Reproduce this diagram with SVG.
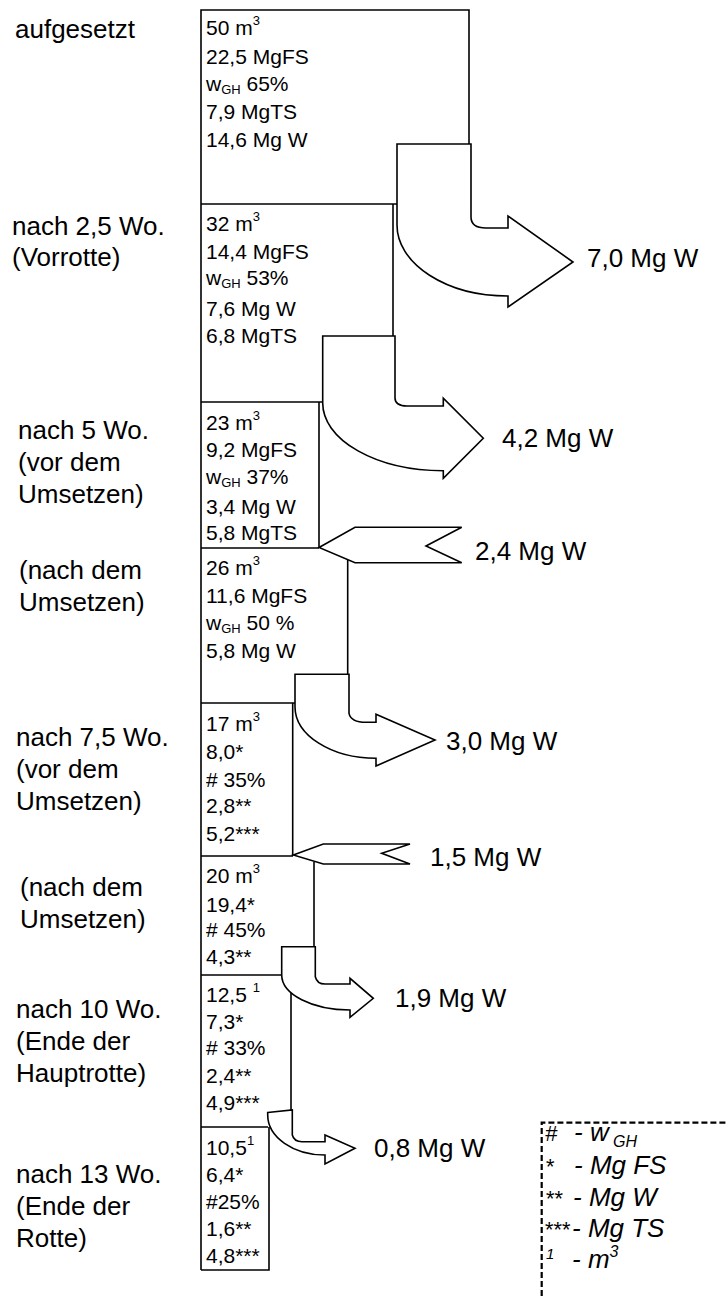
<svg xmlns="http://www.w3.org/2000/svg" width="726" height="1296" viewBox="0 0 726 1296">
<style>
text{font-family:"Liberation Sans",Arial,sans-serif;fill:#000}
.lbl{font-size:26px}
.bx{font-size:21px}
.out{font-size:26px}
.sup{font-size:13px}
.sub{font-size:13px}
.leg{font-size:26px;font-style:italic}
.sym{font-size:22px;font-style:italic}
.ln{fill:none;stroke:#000;stroke-width:1.6}
.arr{fill:#fff;stroke:#000;stroke-width:1.6;stroke-linejoin:miter}
.dash{fill:none;stroke:#000;stroke-width:2.2;stroke-dasharray:6 3}
</style>
<rect width="726" height="1296" fill="#fff"/>

<g id="labels">
<text class="lbl" x="15" y="38">aufgesetzt</text>
<text class="lbl" x="12" y="235">nach 2,5 Wo.</text>
<text class="lbl" x="12" y="266">(Vorrotte)</text>
<text class="lbl" x="18" y="439">nach 5 Wo.</text>
<text class="lbl" x="18" y="471">(vor dem</text>
<text class="lbl" x="18" y="503">Umsetzen)</text>
<text class="lbl" x="19" y="579">(nach dem</text>
<text class="lbl" x="19" y="611">Umsetzen)</text>
<text class="lbl" x="16" y="746">nach 7,5 Wo.</text>
<text class="lbl" x="16" y="778">(vor dem</text>
<text class="lbl" x="16" y="810">Umsetzen)</text>
<text class="lbl" x="20" y="896">(nach dem</text>
<text class="lbl" x="20" y="928">Umsetzen)</text>
<text class="lbl" x="16" y="1018">nach 10 Wo.</text>
<text class="lbl" x="16" y="1050">(Ende der</text>
<text class="lbl" x="16" y="1082">Hauptrotte)</text>
<text class="lbl" x="16" y="1183">nach 13 Wo.</text>
<text class="lbl" x="16" y="1215">(Ende der</text>
<text class="lbl" x="16" y="1247">Rotte)</text>
</g>

<g id="box1">
<path class="ln" d="M201 1270 V10 H469 V144 M201 204 H397"/>
<text class="bx" x="206" y="35">50 m<tspan class="sup" dy="-10">3</tspan></text>
<text class="bx" x="206" y="64">22,5 MgFS</text>
<text class="bx" x="206" y="91">w<tspan class="sub" dy="3">GH</tspan><tspan dy="-3"> 65%</tspan></text>
<text class="bx" x="206" y="119">7,9 MgTS</text>
<text class="bx" x="206" y="147">14,6 Mg W</text>
</g>

<g id="box2">
<path class="ln" d="M393 204 V336"/>
<text class="bx" x="206" y="231">32 m<tspan class="sup" dy="-10">3</tspan></text>
<text class="bx" x="206" y="259">14,4 MgFS</text>
<text class="bx" x="206" y="285">w<tspan class="sub" dy="3">GH</tspan><tspan dy="-3"> 53%</tspan></text>
<text class="bx" x="206" y="316">7,6 Mg W</text>
<text class="bx" x="206" y="343">6,8 MgTS</text>
</g>

<g id="box3">
<path class="ln" d="M201 402 H323 M319 402 V548 M201 548 H319"/>
<text class="bx" x="206" y="430">23 m<tspan class="sup" dy="-10">3</tspan></text>
<text class="bx" x="206" y="457">9,2 MgFS</text>
<text class="bx" x="206" y="484">w<tspan class="sub" dy="3">GH</tspan><tspan dy="-3"> 37%</tspan></text>
<text class="bx" x="206" y="514">3,4 Mg W</text>
<text class="bx" x="206" y="540">5,8 MgTS</text>
</g>

<g id="box4">
<path class="ln" d="M347.7 560 V675"/>
<text class="bx" x="206" y="575">26 m<tspan class="sup" dy="-10">3</tspan></text>
<text class="bx" x="206" y="603">11,6 MgFS</text>
<text class="bx" x="206" y="630">w<tspan class="sub" dy="3">GH</tspan><tspan dy="-3"> 50 %</tspan></text>
<text class="bx" x="206" y="658">5,8 Mg W</text>
</g>

<g id="box5">
<path class="ln" d="M201 703 H295 M292.7 703 V856 M201 856 H293"/>
<text class="bx" x="206" y="731">17 m<tspan class="sup" dy="-10">3</tspan></text>
<text class="bx" x="206" y="759">8,0*</text>
<text class="bx" x="206" y="787"># 35%</text>
<text class="bx" x="206" y="813">2,8**</text>
<text class="bx" x="206" y="841">5,2***</text>
</g>

<g id="box6">
<path class="ln" d="M314 862 V947"/>
<text class="bx" x="206" y="883">20 m<tspan class="sup" dy="-10">3</tspan></text>
<text class="bx" x="206" y="912">19,4*</text>
<text class="bx" x="206" y="937"># 45%</text>
<text class="bx" x="206" y="964">4,3**</text>
</g>

<g id="box7">
<path class="ln" d="M201 975 H282 M291 975 V1112"/>
<text class="bx" x="206" y="1002">12,5 <tspan class="sup" dy="-10">1</tspan></text>
<text class="bx" x="206" y="1029">7,3*</text>
<text class="bx" x="206" y="1055"># 33%</text>
<text class="bx" x="206" y="1083">2,4**</text>
<text class="bx" x="206" y="1110">4,9***</text>
</g>

<g id="box8">
<path class="ln" d="M201 1127 H268 M269 1127 V1270 H201"/>
<text class="bx" x="206" y="1155">10,5<tspan class="sup" dy="-10">1</tspan></text>
<text class="bx" x="206" y="1182">6,4*</text>
<text class="bx" x="206" y="1209">#25%</text>
<text class="bx" x="206" y="1236">1,6**</text>
<text class="bx" x="206" y="1263">4,8***</text>
</g>

<g id="connectors">
<path id="flow1" class="arr" d="M397 144 H471 V217 Q471 228 486 228 H508 V216 L573 262 L508 307 V296 A111 71 0 0 1 397 225 Z"/>
<path id="flow2" class="arr" d="M322.7 336 H395 V398 Q395 406 407 406 H443.3 V398.3 L483.3 438.3 L443.3 478.3 V470.7 A120.6 67.7 0 0 1 322.7 403 Z"/>
<path id="flow3" class="arr" d="M319 547.5 L355 527.3 H461.7 L426 546 L461.7 562.7 H355 Z"/>
<path id="flow4" class="arr" d="M295 674.3 H349 V713.3 Q351 722.3 366 722.3 H376 V714.3 L435 740 L376 766 V758.3 A81 51.6 0 0 1 295 706.7 Z"/>
<path id="flow5" class="arr" d="M293.3 855 L323.3 844 H410 L381.7 853.3 L410 864 H323.3 Z"/>
<path id="flow6" class="arr" d="M281.7 946.7 H315.3 V976.7 Q317 984 325 984 H350 V978.3 L373.3 998.3 L350 1017.3 V1010 A68.3 35 0 0 1 281.7 975 Z"/>
<path id="flow7" class="arr" d="M267.7 1112.5 L292.3 1110 V1135 Q294 1141.7 302 1141.7 H325 V1135 L355 1148.3 L325 1164 V1155 A57.3 40 0 0 1 267.7 1115 Z"/>
<text class="out" x="587" y="267">7,0 Mg W</text>
<text class="out" x="502" y="447">4,2 Mg W</text>
<text class="out" x="475" y="560">2,4 Mg W</text>
<text class="out" x="446" y="750">3,0 Mg W</text>
<text class="out" x="430" y="866">1,5 Mg W</text>
<text class="out" x="395" y="1007">1,9 Mg W</text>
<text class="out" x="374" y="1157">0,8 Mg W</text>
</g>

<g id="legend">
<path class="dash" d="M541.7 1296 V1122.7 H726"/>
<text class="sym" x="545" y="1141">#</text>
<text class="leg" x="574" y="1141">- w<tspan font-size="16" dy="6"> GH</tspan></text>
<text class="sym" x="545" y="1174">*</text>
<text class="leg" x="574" y="1174">- Mg FS</text>
<text class="sym" x="545" y="1206">**</text>
<text class="leg" x="573" y="1206">- Mg W</text>
<text class="sym" x="544" y="1237">***</text>
<text class="leg" x="572" y="1237">- Mg TS</text>
<text class="sym" x="546" y="1268"><tspan font-size="15" dy="-9">1</tspan></text>
<text class="leg" x="572" y="1268">- m<tspan font-size="16" dy="-11">3</tspan></text>
</g>
</svg>
